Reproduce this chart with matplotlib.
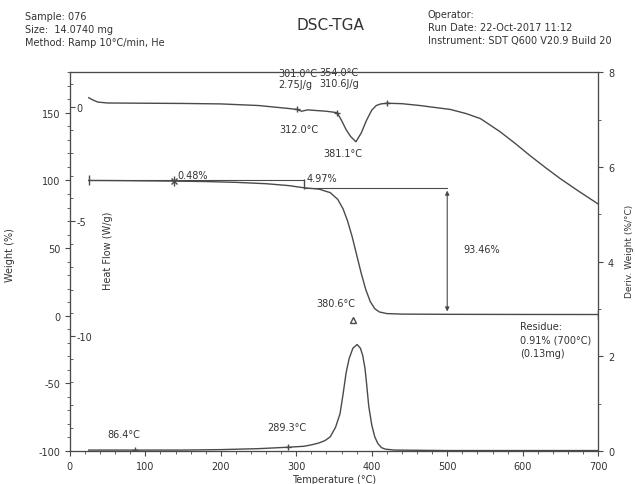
import matplotlib.pyplot as plt
from matplotlib.ticker import AutoMinorLocator, MultipleLocator

# --- data ---
hf_temp = [25, 30, 37, 50, 100, 150, 200, 250, 290, 301, 307, 315, 340, 354, 360, 366, 372, 379,
           386, 393, 400, 406, 412, 420, 440, 464, 480, 504, 525, 544, 570, 590, 610, 630, 650, 675, 700]
hf_val = [0.39, 0.3, 0.2, 0.16, 0.15, 0.14, 0.12, 0.05, -0.08, -0.12, -0.2, -0.14, -0.2, -0.26,
          -0.6, -1.0, -1.3, -1.53, -1.15, -0.6, -0.15, 0.05, 0.12, 0.15, 0.13, 0.05, -0.02, -0.12,
          -0.3, -0.52, -1.09, -1.6, -2.14, -2.65, -3.14, -3.7, -4.24]

wt_temp = [25, 60, 100, 138, 180, 220, 260, 290, 310, 330, 345, 355, 362, 368, 374, 380, 386,
           392, 398, 404, 410, 420, 440, 500, 600, 700]
wt_val = [100, 99.9, 99.7, 99.52, 99.2, 98.6, 97.6, 96.2, 94.6, 93.6, 91.0, 86.0, 79.0, 70.0,
          58.5, 45.0, 31.5, 19.5, 10.5, 5.2, 2.8, 1.6, 1.2, 1.05, 0.95, 0.91]

dtg_temp = [25, 86.4, 150, 200, 250, 289.3, 310, 320, 330, 338, 345, 352, 358, 362, 366, 370,
            375, 380.6, 385, 388, 391, 393, 396, 400, 404, 408, 413, 418, 430, 500, 600, 700]
dtg_val = [0.02, 0.02, 0.02, 0.03, 0.05, 0.08, 0.1, 0.13, 0.17, 0.22, 0.3, 0.5, 0.79, 1.2, 1.65,
           1.95, 2.17, 2.25, 2.17, 2.02, 1.75, 1.45, 0.95, 0.55, 0.3, 0.16, 0.07, 0.04, 0.02,
           0.01, 0.01, 0.01]

step_temps = [25, 138, 310]
step_labels = ['0.48%', '4.97%']
step_level = 94.55
loss_pct = 93.46

ln = '#4a4a4a'
tx = '#333333'
plt.rcParams['font.family'] = 'DejaVu Sans'
plt.rcParams['font.size'] = 7
plt.rcParams['axes.unicode_minus'] = False

fig = plt.figure(figsize=(6.35, 4.85), dpi=100)
ax = fig.add_axes([0.110, 0.068, 0.832, 0.781])
ax_hf = ax.twinx()
ax_d = ax.twinx()

# weight
ax.plot(wt_temp, wt_val, color=ln, lw=1)
ax.plot([step_temps[0], step_temps[2]], [100, 100], color=ln, lw=0.8)
ax.plot([step_temps[2], 500], [step_level, step_level], color=ln, lw=0.8)
ax.plot(step_temps, [100, 99.52, 97.3], ls='none', marker='|', ms=7, color=ln)
ax.plot([138], [99.52], ls='none', marker='x', ms=4, color=ln)
ax.annotate('', xy=(500, step_level - loss_pct), xytext=(500, step_level),
            arrowprops=dict(arrowstyle='<|-|>', color=ln, lw=0.8, mutation_scale=6))
ax.plot([700], [wt_val[-1]], ls='none', marker='|', ms=7, color=ln)
ax.text(143, 101.5, step_labels[0], color=tx)
ax.text(313, 99.5, step_labels[1], color=tx)
ax.text(522, 47, f'{loss_pct:.2f}%', color=tx)
ax.text(378, 7, '380.6°C', color=tx, ha='right')
ax.plot([375], [-3], ls='none', marker='^', ms=4, mfc='none', color=ln)
ax.text(597, -4, 'Residue:\n0.91% (700°C)\n(0.13mg)', color=tx, ha='left', va='top',
        linespacing=1.4)
ax.set_xlim(0, 700)
ax.set_ylim(-100, 180)
ax.set_yticks([150, 100, 50, 0, -50, -100])
ax.yaxis.set_minor_locator(AutoMinorLocator(5))
ax.xaxis.set_major_locator(MultipleLocator(100))
ax.xaxis.set_minor_locator(AutoMinorLocator(5))
ax.set_xlabel('Temperature (°C)', color=tx, labelpad=2)
ax.set_ylabel('Weight (%)', color=tx)
ax.yaxis.set_label_coords(-0.104, 0.52)

# heat flow
ax_hf.plot(hf_temp, hf_val, color=ln, lw=1)
ax_hf.plot([301, 354, 420], [-0.1, -0.26, 0.15], ls='none', marker='+', ms=5, color=ln)
ax_hf.text(276, 0.85, '301.0°C\n2.75J/g', color=tx, linespacing=1.1)
ax_hf.text(330, 0.9, '354.0°C\n310.6J/g', color=tx, linespacing=1.1)
ax_hf.text(277, -1.1, '312.0°C', color=tx)
ax_hf.text(336, -2.15, '381.1°C', color=tx)
ax_hf.yaxis.set_ticks_position('left')
ax_hf.yaxis.set_label_position('left')
ax_hf.set_ylim(-15, 1.5)
ax_hf.set_yticks([0, -5, -10])
ax_hf.yaxis.set_minor_locator(AutoMinorLocator(5))
ax_hf.tick_params(axis='y', which='both', direction='in', pad=-5, colors=ln, labelcolor=tx)
for lab in ax_hf.get_yticklabels():
    lab.set_horizontalalignment('left')
ax_hf.set_ylabel('Heat Flow (W/g)', color=tx)
ax_hf.yaxis.set_label_coords(0.081, 0.53)

# derivative weight
ax_d.plot(dtg_temp, dtg_val, color=ln, lw=1)
ax_d.plot([86.4, 289.3], [0.02, 0.08], ls='none', marker='+', ms=5, color=ln)
ax_d.text(50, 0.3, '86.4°C', color=tx)
ax_d.text(262, 0.45, '289.3°C', color=tx)
ax_d.set_ylim(0, 8)
ax_d.set_yticks([0, 2, 4, 6, 8])
ax_d.yaxis.set_minor_locator(AutoMinorLocator(2))
ax_d.set_ylabel('Deriv. Weight (%/°C)', color=tx, rotation=90, fontsize=6.5)
ax_d.yaxis.set_label_coords(1.05, 0.53)

for a in (ax, ax_hf, ax_d):
    for s in a.spines.values():
        s.set_color(ln)
        s.set_linewidth(0.8)
ax.tick_params(which='both', colors=ln, labelcolor=tx)
ax_d.tick_params(which='both', colors=ln, labelcolor=tx)

# header
fig.text(0.04, 0.965, 'Sample: 076', color=tx, va='center')
fig.text(0.04, 0.938, 'Size:  14.0740 mg', color=tx, va='center')
fig.text(0.04, 0.911, 'Method: Ramp 10°C/min, He', color=tx, va='center')
fig.text(0.52, 0.948, 'DSC-TGA', color=tx, fontsize=11, ha='center', va='center')
fig.text(0.674, 0.969, 'Operator:', color=tx, va='center')
fig.text(0.674, 0.942, 'Run Date: 22-Oct-2017 11:12', color=tx, va='center')
fig.text(0.674, 0.915, 'Instrument: SDT Q600 V20.9 Build 20', color=tx, va='center')

fig.savefig('out.png', dpi=100)
